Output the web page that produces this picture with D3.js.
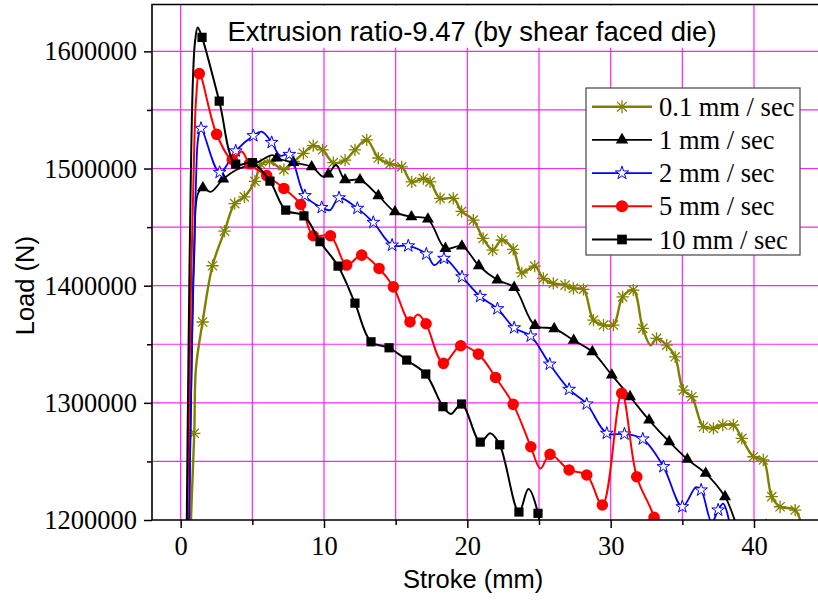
<!DOCTYPE html>
<html>
<head>
<meta charset="utf-8">
<script src="https://cdn.jsdelivr.net/npm/d3@7"></script>
<style>
body { margin: 0; background: #fff; }
</style>
</head>
<body>
<div id="chart"></div>
<script>
const chartTitle = "Extrusion ratio-9.47 (by shear faced die)";
const legendLabels = ["0.1 mm / sec", "1 mm / sec", "2 mm / sec", "5 mm / sec", "10 mm / sec"];
const xTicks = [0, 10, 20, 30, 40];
const xMinor = [5, 15, 25, 35, 45];
const yTicks = [1200000, 1300000, 1400000, 1500000, 1600000];
const yMinor = [1250000, 1350000, 1450000, 1550000];

// [stroke (mm), load (N), 1 = point shown with a marker]
const load01 = [[0.55,1120000,0],[0.72,1200000,0],[0.95,1274000,1],[1.07,1330000,0],[1.53,1369000,1],[2.22,1417000,1],
  [3.06,1446500,1],[3.77,1470000,1],[4.44,1475800,1],[5.18,1489000,1],[5.6,1503500,1],[6.2,1506000,1],[7.2,1499000,1],
  [7.9,1506000,1],[8.56,1513000,1],[9.25,1519500,1],[9.9,1516000,1],[10.65,1505000,1],[11.47,1507100,1],[12.16,1516000,1],
  [12.98,1524500,1],[13.79,1509000,1],[14.6,1504000,1],[15.42,1501400,1],[16.12,1488600,1],[16.93,1491500,1],[17.4,1488600,1],
  [18.1,1474500,1],[19.02,1474500,1],[19.6,1463500,1],[20.42,1456000,1],[21.1,1440300,1],[21.77,1430400,1],[22.4,1439000,1],
  [23.2,1431000,1],[23.8,1411000,1],[24.7,1416700,1],[25.3,1406200,1],[26.0,1402000,1],[26.82,1400500,1],[27.4,1397700,1],
  [28.1,1396800,1],[28.8,1370600,1],[29.5,1366400,1],[30.19,1366400,1],[30.84,1390500,1],[31.58,1396200,1],[32.24,1363600,1],
  [32.8,1349000,0],[33.2,1355000,1],[33.91,1349300,1],[34.5,1339300,1],[35.07,1310900,1],[35.66,1305200,1],[36.47,1279600,1],
  [37.17,1278200,1],[37.82,1281100,1],[38.56,1281100,1],[39.15,1269700,1],[39.96,1254000,1],[40.65,1251200,1],[41.24,1219900,1],
  [41.82,1211300,1],[42.87,1208500,1],[43.4,1190000,0]];

const load1 = [[0.5,1130000,0],[0.72,1300000,0],[0.95,1427000,0],[1.19,1478000,0],[1.55,1483500,1],[2.1,1480000,0],
  [2.97,1491000,1],[3.9,1499000,0],[5.3,1505000,0],[6.4,1511500,0],[6.7,1509000,1],[7.86,1505000,1],[9.14,1501400,1],
  [9.95,1493000,0],[10.3,1495200,1],[10.85,1503000,0],[11.47,1490300,1],[12.51,1490300,1],[13.79,1476800,1],[14.95,1463000,1],
  [16.1,1458800,1],[17.25,1456800,1],[18.47,1431800,1],[19.62,1433800,1],[20.8,1417000,1],[22.1,1404800,1],[23.27,1398500,1],
  [24.72,1366000,1],[26.06,1363300,1],[27.42,1353300,1],[28.72,1343600,1],[30.08,1323700,1],[31.35,1305200,1],[32.68,1285300,1],
  [34.08,1266800,1],[35.35,1251800,1],[36.63,1239800,1],[37.98,1219900,1],[39.4,1185000,0],[40.85,1195300,1]];

const load2 = [[0.5,1120000,0],[0.84,1390000,0],[1.07,1490000,0],[1.22,1526000,0],[1.42,1534300,1],[2.72,1496700,1],
  [3.84,1515000,1],[5.07,1528000,1],[5.65,1531500,0],[6.35,1522200,1],[6.93,1511000,0],[7.58,1512000,1],[8.67,1476800,1],
  [9.84,1466700,1],[10.42,1464500,0],[11.05,1475000,1],[12.33,1466000,1],[13.44,1454000,1],[14.75,1434600,1],[15.88,1434000,1],
  [17.14,1427000,1],[17.7,1417600,0],[18.37,1423300,1],[19.63,1407500,1],[20.89,1390800,1],[22.1,1380300,1],[23.27,1364000,1],
  [24.42,1357000,1],[25.75,1333000,1],[27.1,1311500,1],[28.33,1299000,1],[29.73,1274000,1],[30.96,1273400,1],[32.24,1269100,1],
  [33.68,1245500,1],[35.0,1211300,1],[35.95,1228000,0],[36.31,1225600,1],[37.05,1198000,0],[37.5,1208500,1],[37.85,1214000,0],
  [38.5,1185000,0]];

const load5 = [[0.35,1100000,0],[0.72,1400000,0],[0.95,1520000,0],[1.08,1560000,0],[1.3,1581000,1],[2.51,1529200,1],
  [3.6,1507700,1],[4.26,1514500,0],[4.8,1504000,1],[6.0,1494000,1],[7.2,1483000,1],[8.37,1469300,1],[9.25,1442600,1],
  [10.45,1442600,1],[11.58,1417600,1],[12.63,1426100,1],[13.84,1414700,1],[14.84,1399000,1],[16.0,1369000,1],[16.55,1375500,0],
  [17.12,1367500,1],[18.33,1333700,1],[19.54,1348700,1],[20.77,1341600,1],[21.97,1321700,1],[23.2,1298700,1],[24.43,1262500,1],
  [25.1,1244000,0],[25.77,1256000,1],[27.1,1242700,1],[28.33,1238400,1],[29.42,1212800,1],[30.77,1308100,1],[31.82,1236900,1],
  [33.03,1202300,1],[33.5,1170000,0]];

const load10 = [[0.35,1100000,0],[0.6,1400000,0],[0.84,1570000,0],[1.0,1608000,0],[1.19,1620400,0],[1.49,1612000,1],
  [2.69,1557600,1],[3.84,1503700,1],[5.0,1505000,1],[6.23,1489200,1],[7.33,1464500,1],[8.6,1459600,1],[9.72,1437500,1],
  [10.98,1416700,1],[12.16,1385100,1],[13.28,1352100,1],[14.54,1347000,1],[15.77,1336500,1],[17.1,1324600,1],[18.3,1296700,1],
  [18.85,1290500,0],[19.6,1299000,1],[20.9,1266500,1],[21.6,1274000,0],[22.26,1264200,1],[23.6,1206800,1],[24.26,1226500,0],
  [24.93,1205700,1],[25.25,1170000,0]];

const width = 818, height = 600;
const svg = d3.select("#chart").append("svg")
    .attr("width", width)
    .attr("height", height)
    .style("display", "block");

const x = d3.scaleLinear().domain([-2, 46]).range([152, 840]);
const y = d3.scaleLinear().domain([1200000, 1640000]).range([520, 4.5]);

// custom 8-arm asterisk, like Origin's
const asterisk = {
    draw(ctx, size) {
        const r = Math.sqrt(size) * 0.6, d = r * 0.75;
        ctx.moveTo(0, -r); ctx.lineTo(0, r);
        ctx.moveTo(-r, 0); ctx.lineTo(r, 0);
        ctx.moveTo(-d, -d); ctx.lineTo(d, d);
        ctx.moveTo(-d, d); ctx.lineTo(d, -d);
    }
};

const series = [
    {data: load01, color: "#808000", width: 2.4, sym: asterisk, size: 105, fill: "none", stroke: "#808000"},
    {data: load1, color: "#000", width: 1.8, sym: d3.symbolTriangle, size: 62, fill: "#000", stroke: "none"},
    {data: load2, color: "#0000ff", width: 1.8, sym: d3.symbolStar, size: 50, fill: "#fff", stroke: "#0000ff"},
    {data: load5, color: "#ff0000", width: 2, sym: d3.symbolCircle, size: 105, fill: "#ff0000", stroke: "none"},
    {data: load10, color: "#000", width: 2, sym: d3.symbolSquare, size: 85, fill: "#000", stroke: "none"}
];

svg.append("defs").append("clipPath").attr("id", "plot")
  .append("rect")
    .attr("x", x(-2)).attr("y", y(1640000))
    .attr("width", x(46) - x(-2)).attr("height", y(1200000) - y(1640000));

// grid
const grid = svg.append("g").attr("stroke", "#ff22ff").attr("stroke-width", 1.2);
grid.selectAll(".gx").data(d3.range(0, 46, 5)).join("line")
    .attr("x1", d => x(d)).attr("x2", d => x(d))
    .attr("y1", y(1200000)).attr("y2", y(1640000));
grid.selectAll(".gy").data(d3.range(1250000, 1640000, 50000)).join("line")
    .attr("x1", x(-2)).attr("x2", x(46))
    .attr("y1", d => y(d)).attr("y2", d => y(d));

// title background
svg.append("rect")
    .attr("x", 222).attr("y", y(1640000) + 1)
    .attr("width", 500).attr("height", y(1604000) - y(1640000))
    .attr("fill", "#fff");

svg.append("text")
    .attr("x", 472).attr("y", 41)
    .attr("text-anchor", "middle")
    .attr("font-family", "Liberation Sans, Arial, sans-serif")
    .attr("font-size", 27.5)
    .text(chartTitle);

const line = d3.line()
    .x(d => x(d[0]))
    .y(d => y(d[1]))
    .curve(d3.curveCatmullRom.alpha(0.5));

const plot = svg.append("g").attr("clip-path", "url(#plot)");

series.forEach(s => {
    plot.append("path")
        .attr("d", line(s.data))
        .attr("fill", "none")
        .attr("stroke", s.color)
        .attr("stroke-width", s.width);

    plot.append("g").selectAll("path")
        .data(s.data.filter(d => d[2]))
        .join("path")
        .attr("transform", d => `translate(${x(d[0])},${y(d[1])})`)
        .attr("d", d3.symbol().type(s.sym).size(s.size))
        .attr("fill", s.fill)
        .attr("stroke", s.stroke)
        .attr("stroke-width", s.sym === asterisk ? 1.3 : 1);
});

// axes
const serif = "Liberation Serif, Times New Roman, serif";
const sans = "Liberation Sans, Arial, sans-serif";

const gx = svg.append("g").attr("transform", `translate(0,${y(1200000)})`);
gx.call(d3.axisBottom(x).tickValues(xTicks).tickSize(8).tickFormat(d3.format("d")));
gx.append("g").call(d3.axisBottom(x).tickValues(xMinor).tickSize(5).tickFormat(""));
gx.selectAll(".domain").remove();
gx.selectAll("line").attr("stroke", "#000").attr("stroke-width", 1.5);
gx.selectAll("text").attr("font-family", serif).attr("font-size", 26.5).attr("fill", "#000").attr("dy", "0.9em");

const gy = svg.append("g").attr("transform", `translate(${x(-2)},0)`);
gy.call(d3.axisLeft(y).tickValues(yTicks).tickSize(8).tickFormat(d3.format("d")));
gy.append("g").call(d3.axisLeft(y).tickValues(yMinor).tickSize(5).tickFormat(""));
gy.selectAll(".domain").remove();
gy.selectAll("line").attr("stroke", "#000").attr("stroke-width", 1.5);
gy.selectAll("text").attr("font-family", serif).attr("font-size", 26.5).attr("fill", "#000").attr("x", -15);

// frame
svg.append("path")
    .attr("d", `M${x(-2)},${y(1200000)}V${y(1640000)}H${x(46)}M${x(-2)},${y(1200000)}H${x(46)}`)
    .attr("fill", "none")
    .attr("stroke", "#000")
    .attr("stroke-width", 1.6);

svg.append("text")
    .attr("x", 473).attr("y", 588)
    .attr("text-anchor", "middle")
    .attr("font-family", sans).attr("font-size", 25.5)
    .text("Stroke (mm)");

svg.append("text")
    .attr("transform", `translate(34,${y(1400000)}) rotate(-90)`)
    .attr("text-anchor", "middle")
    .attr("font-family", sans).attr("font-size", 25.5)
    .text("Load (N)");

// legend
const lg = svg.append("g");
lg.append("rect")
    .attr("x", 586).attr("y", 88).attr("width", 214).attr("height", 167)
    .attr("fill", "#fff").attr("stroke", "#444").attr("stroke-width", 1.2);

series.forEach((s, i) => {
    const ly = 106.7 + i * 33.2;
    lg.append("line")
        .attr("x1", 592).attr("x2", 652).attr("y1", ly).attr("y2", ly)
        .attr("stroke", s.color).attr("stroke-width", s.width);
    lg.append("path")
        .attr("transform", `translate(622,${ly})`)
        .attr("d", d3.symbol().type(s.sym).size(s.size * 1.1))
        .attr("fill", s.fill)
        .attr("stroke", s.stroke)
        .attr("stroke-width", s.sym === asterisk ? 1.3 : 1);
    lg.append("text")
        .attr("x", 659).attr("y", ly + 9)
        .attr("font-family", serif).attr("font-size", 26.5)
        .text(legendLabels[i]);
});
</script>
</body>
</html>
